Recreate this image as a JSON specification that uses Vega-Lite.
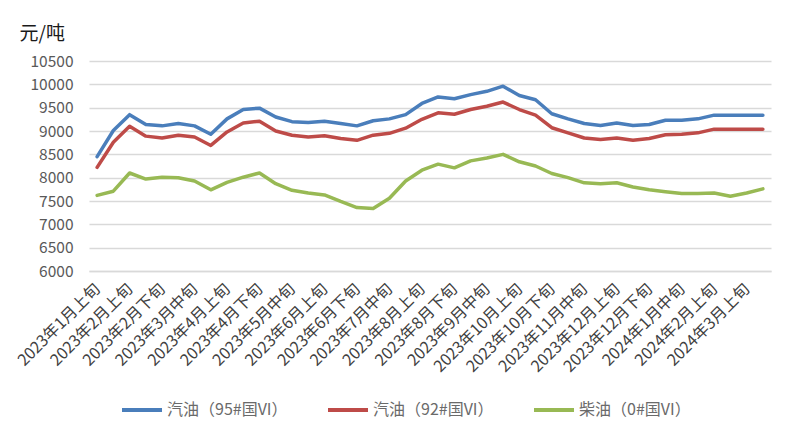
{
  "$schema": "https://vega.github.io/schema/vega-lite/v6.json",
  "width": 682,
  "height": 210,
  "autosize": {"type": "none"},
  "padding": {"left": 89, "top": 61, "right": 29, "bottom": 166},
  "background": "white",
  "config": {
    "font": "Noto Sans CJK SC",
    "view": {"stroke": null}
  },
  "data": {
    "values": [
      {"period": "2023年1月上旬", "p95": 8450, "p92": 8220, "p0": 7620},
      {"period": "2023年1月中旬", "p95": 9010, "p92": 8760, "p0": 7710},
      {"period": "2023年2月上旬", "p95": 9350, "p92": 9100, "p0": 8100},
      {"period": "2023年2月中旬", "p95": 9140, "p92": 8890, "p0": 7970},
      {"period": "2023年2月下旬", "p95": 9110, "p92": 8850, "p0": 8010},
      {"period": "2023年3月上旬", "p95": 9160, "p92": 8910, "p0": 8000},
      {"period": "2023年3月中旬", "p95": 9110, "p92": 8870, "p0": 7930},
      {"period": "2023年3月下旬", "p95": 8930, "p92": 8690, "p0": 7740},
      {"period": "2023年4月上旬", "p95": 9260, "p92": 8980, "p0": 7900},
      {"period": "2023年4月中旬", "p95": 9460, "p92": 9170, "p0": 8010},
      {"period": "2023年4月下旬", "p95": 9490, "p92": 9210, "p0": 8100},
      {"period": "2023年5月上旬", "p95": 9300, "p92": 9000, "p0": 7870},
      {"period": "2023年5月中旬", "p95": 9200, "p92": 8910, "p0": 7730},
      {"period": "2023年5月下旬", "p95": 9180, "p92": 8870, "p0": 7670},
      {"period": "2023年6月上旬", "p95": 9210, "p92": 8900, "p0": 7630},
      {"period": "2023年6月中旬", "p95": 9160, "p92": 8840, "p0": 7490},
      {"period": "2023年6月下旬", "p95": 9110, "p92": 8800, "p0": 7360},
      {"period": "2023年7月上旬", "p95": 9220, "p92": 8910, "p0": 7340},
      {"period": "2023年7月中旬", "p95": 9260, "p92": 8950, "p0": 7560},
      {"period": "2023年7月下旬", "p95": 9350, "p92": 9060, "p0": 7930},
      {"period": "2023年8月上旬", "p95": 9590, "p92": 9250, "p0": 8160},
      {"period": "2023年8月中旬", "p95": 9730, "p92": 9390, "p0": 8290},
      {"period": "2023年8月下旬", "p95": 9690, "p92": 9360, "p0": 8210},
      {"period": "2023年9月上旬", "p95": 9780, "p92": 9460, "p0": 8360},
      {"period": "2023年9月中旬", "p95": 9850, "p92": 9530, "p0": 8420},
      {"period": "2023年9月下旬", "p95": 9960, "p92": 9620, "p0": 8500},
      {"period": "2023年10月上旬", "p95": 9760, "p92": 9460, "p0": 8340},
      {"period": "2023年10月中旬", "p95": 9670, "p92": 9340, "p0": 8250},
      {"period": "2023年10月下旬", "p95": 9370, "p92": 9070, "p0": 8090},
      {"period": "2023年11月上旬", "p95": 9260, "p92": 8960, "p0": 8000},
      {"period": "2023年11月中旬", "p95": 9160, "p92": 8850, "p0": 7890},
      {"period": "2023年11月下旬", "p95": 9120, "p92": 8820, "p0": 7870},
      {"period": "2023年12月上旬", "p95": 9170, "p92": 8850, "p0": 7890},
      {"period": "2023年12月中旬", "p95": 9120, "p92": 8800, "p0": 7800},
      {"period": "2023年12月下旬", "p95": 9140, "p92": 8840, "p0": 7740},
      {"period": "2024年1月上旬", "p95": 9230, "p92": 8920, "p0": 7700},
      {"period": "2024年1月中旬", "p95": 9230, "p92": 8930, "p0": 7660},
      {"period": "2024年1月下旬", "p95": 9260, "p92": 8960, "p0": 7660},
      {"period": "2024年2月上旬", "p95": 9340, "p92": 9040, "p0": 7670},
      {"period": "2024年2月下旬", "p95": 9340, "p92": 9040, "p0": 7600},
      {"period": "2024年3月上旬", "p95": 9340, "p92": 9040, "p0": 7670},
      {"period": "2024年3月中旬", "p95": 9340, "p92": 9040, "p0": 7760}
    ]
  },
  "transform": [
    {"fold": ["p95", "p92", "p0"], "as": ["series", "price"]}
  ],
  "mark": {"type": "line", "strokeWidth": 3.5, "strokeCap": "round", "strokeJoin": "round"},
  "encoding": {
    "x": {
      "field": "period",
      "type": "nominal",
      "sort": null,
      "scale": {"type": "point", "padding": 0.5},
      "axis": {
        "title": null,
        "values": ["2023年1月上旬", "2023年2月上旬", "2023年2月下旬", "2023年3月中旬", "2023年4月上旬", "2023年4月下旬", "2023年5月中旬", "2023年6月上旬", "2023年6月下旬", "2023年7月中旬", "2023年8月上旬", "2023年8月下旬", "2023年9月中旬", "2023年10月上旬", "2023年10月下旬", "2023年11月中旬", "2023年12月上旬", "2023年12月下旬", "2024年1月中旬", "2024年2月上旬", "2024年3月上旬"],
        "labelAngle": -45,
        "labelAlign": "right",
        "labelBaseline": "middle",
        "labelFontSize": 16,
        "labelColor": "#404040",
        "labelPadding": 15,
        "labelOverlap": false,
        "labelLimit": 200,
        "ticks": false,
        "domain": true,
        "domainColor": "#D9D9D9",
        "domainWidth": 1.3,
        "grid": false
      }
    },
    "y": {
      "field": "price",
      "type": "quantitative",
      "scale": {"domain": [6000, 10500], "nice": false, "zero": false},
      "axis": {
        "values": [6000, 6500, 7000, 7500, 8000, 8500, 9000, 9500, 10000, 10500],
        "format": "d",
        "title": "元/吨",
        "titleAngle": 0,
        "titleX": -70,
        "titleY": -22,
        "titleAlign": "left",
        "titleBaseline": "alphabetic",
        "titleFontSize": 19,
        "titleFontWeight": "normal",
        "titleColor": "#1a1a1a",
        "labelFontSize": 15.5,
        "labelColor": "#595959",
        "labelPadding": 16,
        "ticks": false,
        "domain": false,
        "grid": true,
        "gridColor": "#D9D9D9",
        "gridWidth": 1.3
      }
    },
    "color": {
      "field": "series",
      "type": "nominal",
      "scale": {"domain": ["p95", "p92", "p0"], "range": ["#4A7EBB", "#BE4B48", "#98B954"]},
      "legend": {
        "title": null,
        "orient": "none",
        "direction": "horizontal",
        "legendX": 31,
        "legendY": 327,
        "symbolType": "stroke",
        "symbolStrokeWidth": 4,
        "symbolSize": 1600,
        "labelExpr": "datum.value == 'p95' ? '汽油（95#国VI）' : datum.value == 'p92' ? '汽油（92#国VI）' : '柴油（0#国VI）'",
        "labelFontSize": 16,
        "labelColor": "#6a6a6a",
        "labelOffset": 3,
        "labelLimit": 300,
        "columnPadding": 32
      }
    }
  }
}
